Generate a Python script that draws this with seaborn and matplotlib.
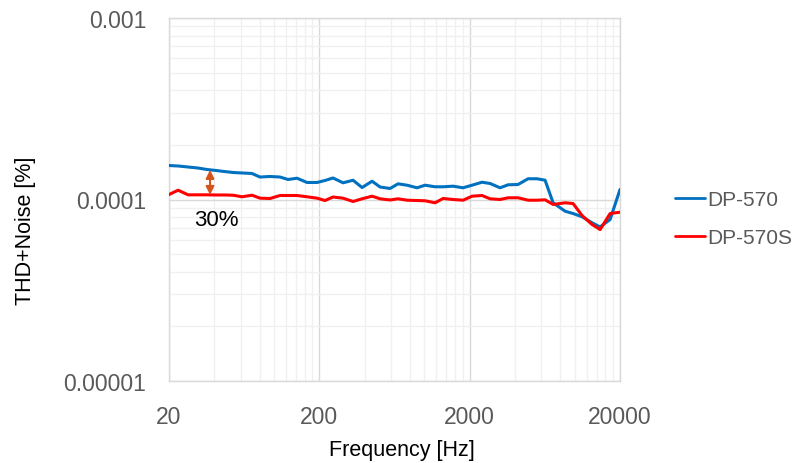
import numpy as np
import pandas as pd
import matplotlib
matplotlib.use("Agg")
import matplotlib.pyplot as plt
from matplotlib.ticker import FixedLocator, FixedFormatter, NullFormatter
import seaborn as sns

# ---- data ----
freq_hz = [20, 23.0, 26.8, 31.2, 35.8, 41.1, 46.4, 53.3, 61.2, 71.3, 80.6, 94.0,
           109.5, 123.8, 142.1, 165.7, 193.1, 218.3, 246.7, 287.6, 335.2, 384.8,
           448.5, 507.0, 590.9, 667.9, 766.5, 893.4, 1010, 1177, 1331, 1551, 1808,
           2075, 2418, 2734, 3187, 3603, 4199, 4894, 5616, 6350, 7178, 8624, 9750,
           11190, 13048, 14748, 17190, 20000]

dp570 = [1.539, 1.530, 1.510, 1.491, 1.463, 1.445, 1.427, 1.409, 1.400, 1.391,
         1.330, 1.339, 1.330, 1.289, 1.310, 1.241, 1.241, 1.273, 1.314, 1.236,
         1.277, 1.164, 1.261, 1.172, 1.150, 1.220, 1.199, 1.160, 1.199, 1.175,
         1.175, 1.184, 1.160, 1.199, 1.245, 1.225, 1.160, 1.205, 1.210, 1.301,
         1.301, 1.277, 0.959, 0.862, 0.837, 0.803, 0.744, 0.706, 0.776, 1.135]

dp570s = [1.065, 1.125, 1.061, 1.061, 1.061, 1.059, 1.059, 1.056, 1.035, 1.056,
          1.017, 1.013, 1.052, 1.052, 1.052, 1.035, 1.017, 0.987, 1.032, 1.017,
          0.975, 1.009, 1.043, 1.009, 0.994, 1.009, 0.991, 0.987, 0.984, 0.959,
          1.013, 1.000, 0.991, 1.043, 1.052, 1.009, 1.000, 1.022, 1.022, 0.991,
          0.991, 0.996, 0.939, 0.959, 0.950, 0.816, 0.728, 0.683, 0.837, 0.851]

series_names = ["DP-570", "DP-570S"]
series_colors = ["#0070C0", "#FF0000"]

x_ticks = [20, 200, 2000, 20000]
x_tick_labels = ["20", "200", "2000", "20000"]
y_ticks = [1e-5, 1e-4, 1e-3]
y_tick_labels = ["0.00001", "0.0001", "0.001"]

arrow_freq = 37.5
arrow_top = 1.455e-4
arrow_bottom = 1.06e-4
note_text = "30%"
note_freq = 41.0
note_val = 0.775e-4

# ---- build long table ----
df = pd.DataFrame({
    "Frequency": freq_hz * 2,
    "THD": [v * 1e-4 for v in dp570] + [v * 1e-4 for v in dp570s],
    "Model": [series_names[0]] * len(freq_hz) + [series_names[1]] * len(freq_hz),
})

sns.set_style("white")
plt.rcParams["font.family"] = ["Liberation Sans", "DejaVu Sans"]

fig = plt.figure(figsize=(7.96, 4.64), dpi=100)
ax = fig.add_axes([169 / 796, 1 - 382 / 464, (620 - 169) / 796, (382 - 19) / 464])

sns.lineplot(data=df, x="Frequency", y="THD", hue="Model",
             palette=dict(zip(series_names, series_colors)),
             linewidth=2.2, ax=ax, legend=True, zorder=3)

ax.set_xscale("log")
ax.set_yscale("log")
ax.set_xlim(20, 20000)
ax.set_ylim(1e-5, 1e-3)

ax.xaxis.set_major_locator(FixedLocator(x_ticks))
ax.xaxis.set_major_formatter(FixedFormatter(x_tick_labels))
xminor = [m * d for d in (20, 200, 2000) for m in range(2, 10)]
ax.xaxis.set_minor_locator(FixedLocator(xminor))
ax.xaxis.set_minor_formatter(NullFormatter())

ax.yaxis.set_major_locator(FixedLocator(y_ticks))
ax.yaxis.set_major_formatter(FixedFormatter(y_tick_labels))
yminor = [m * d for d in (1e-5, 1e-4) for m in range(2, 10)]
ax.yaxis.set_minor_locator(FixedLocator(yminor))
ax.yaxis.set_minor_formatter(NullFormatter())

ax.grid(which="major", color="#D9D9D9", linewidth=1.0, zorder=0)
ax.grid(which="minor", color="#F0F0F0", linewidth=1.0, zorder=0)
ax.set_axisbelow(True)

for s in ax.spines.values():
    s.set_color("#D9D9D9")
    s.set_linewidth(1.0)

ax.tick_params(axis="both", which="both", length=0, labelsize=16.5,
               labelcolor="#595959")
ax.tick_params(axis="x", pad=17.5)
ax.tick_params(axis="y", pad=16.5)

ax.set_xlabel("Frequency [Hz]", fontsize=15.5, color="#000000")
ax.set_ylabel("THD+Noise [%]", fontsize=15.5, color="#000000")
ax.xaxis.set_label_coords((402 - 169) / 451, (382 - 451) / 363)
ax.xaxis.label.set_va("center")
ax.yaxis.set_label_coords((26 - 169) / 451, (382 - 231) / 363)
ax.yaxis.label.set_va("center")

# annotation arrow and text
ax.annotate("", xy=(arrow_freq, arrow_top), xytext=(arrow_freq, arrow_bottom),
            arrowprops=dict(arrowstyle="<|-|>", color="#D4541C", lw=1.5,
                            mutation_scale=12, shrinkA=0, shrinkB=0), zorder=4)
ax.text(note_freq, note_val, note_text, fontsize=16, color="#000000",
        ha="center", va="center")

leg = ax.legend(loc="upper left", bbox_to_anchor=(675 / 796, 1 - 191 / 464),
                bbox_transform=fig.transFigure, frameon=False, fontsize=15,
                handlelength=1.45, handletextpad=0.1, labelspacing=0.92,
                borderaxespad=0, borderpad=0)
for t in leg.get_texts():
    t.set_color("#595959")
for line in leg.get_lines():
    line.set_linewidth(2.0)

fig.savefig("out.png", dpi=100)
